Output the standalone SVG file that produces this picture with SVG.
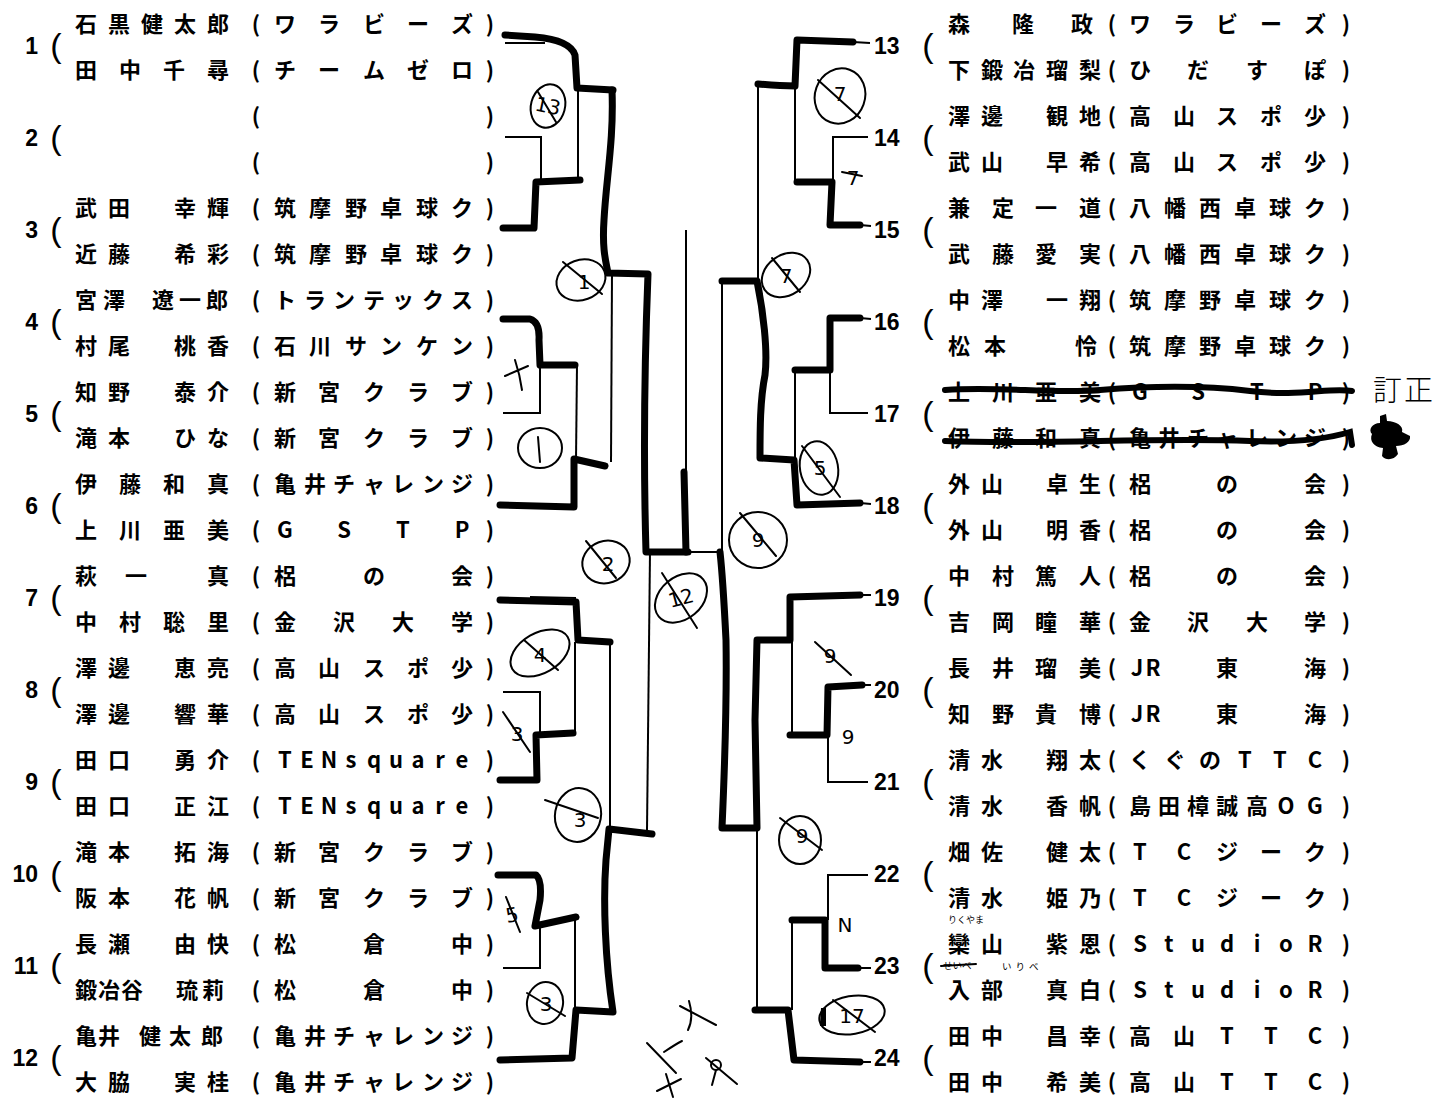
<svg xmlns="http://www.w3.org/2000/svg" width="1437" height="1099" viewBox="0 0 1437 1099">
<style>
.t{font-family:"Noto Sans CJK JP","Noto Sans CJK SC",sans-serif;font-size:22px;font-weight:700;text-anchor:middle;fill:#000}
.n{font-family:"Liberation Sans",Arial,sans-serif;font-size:23px;font-weight:700;fill:#000}
.nl{text-anchor:end}
.p{font-family:"Liberation Sans",Arial,sans-serif;font-size:34px;text-anchor:middle;fill:#000}
.k{fill:none;stroke:#000;stroke-width:7;stroke-linecap:round;stroke-linejoin:round}
.h{fill:none;stroke:#000;stroke-width:2}
.a{fill:none;stroke:#000;stroke-width:2;stroke-linecap:round}
.at{font-family:"DejaVu Sans",sans-serif;font-size:20px;text-anchor:middle;dominant-baseline:central;fill:#000}
.s{fill:none;stroke:#000;stroke-width:6;stroke-linecap:round}
.f{font-family:"Noto Sans CJK JP",sans-serif;fill:#000}
</style>
<rect width="1437" height="1099" fill="#fff"/>

<g id="e1"><text class="n nl" x="38" y="54">1</text><text class="p" x="56" y="57">(</text>
<text class="t" x="86 119 152 185 218 256 285 329 374 418 462 490" y="32">石黒健太郎(ワラビーズ)</text>
<text class="t" x="86 130 174 218 256 285 329 374 418 462 490" y="78">田中千尋(チームゼロ)</text></g>
<g id="e2"><text class="n nl" x="38" y="146">2</text><text class="p" x="56" y="149">(</text>
<text class="t" x="256 490" y="124">()</text>
<text class="t" x="256 490" y="170">()</text></g>
<g id="e3"><text class="n nl" x="38" y="238">3</text><text class="p" x="56" y="241">(</text>
<text class="t" x="86 119 152 185 218 256 285 320 356 391 427 462 490" y="216">武田　幸輝(筑摩野卓球ク)</text>
<text class="t" x="86 119 152 185 218 256 285 320 356 391 427 462 490" y="262">近藤　希彩(筑摩野卓球ク)</text></g>
<g id="e4"><text class="n nl" x="38" y="330">4</text><text class="p" x="56" y="333">(</text>
<text class="t" x="86 114 139 163 190 217 256 285 315 344 374 403 433 462 490" y="308">宮澤　遼一郎(トランテックス)</text>
<text class="t" x="86 119 152 185 218 256 285 320 356 391 427 462 490" y="354">村尾　桃香(石川サンケン)</text></g>
<g id="e5"><text class="n nl" x="38" y="422">5</text><text class="p" x="56" y="425">(</text>
<text class="t" x="86 119 152 185 218 256 285 329 374 418 462 490" y="400">知野　泰介(新宮クラブ)</text>
<text class="t" x="86 119 152 185 218 256 285 329 374 418 462 490" y="446">滝本　ひな(新宮クラブ)</text></g>
<g id="e6"><text class="n nl" x="38" y="514">6</text><text class="p" x="56" y="517">(</text>
<text class="t" x="86 130 174 218 256 285 315 344 374 403 433 462 490" y="492">伊藤和真(亀井チャレンジ)</text>
<text class="t" x="86 130 174 218 256 285 315 344 374 403 433 462 490" y="538">上川亜美(G　S　T　P)</text></g>
<g id="e7"><text class="n nl" x="38" y="606">7</text><text class="p" x="56" y="609">(</text>
<text class="t" x="86 136 218 256 285 329 374 418 462 490" y="584">萩一真(梠　の　会)</text>
<text class="t" x="86 130 174 218 256 285 315 344 374 403 433 462 490" y="630">中村聡里(金　沢　大　学)</text></g>
<g id="e8"><text class="n nl" x="38" y="698">8</text><text class="p" x="56" y="701">(</text>
<text class="t" x="86 119 152 185 218 256 285 329 374 418 462 490" y="676">澤邊　恵亮(高山スポ少)</text>
<text class="t" x="86 119 152 185 218 256 285 329 374 418 462 490" y="722">澤邊　響華(高山スポ少)</text></g>
<g id="e9"><text class="n nl" x="38" y="790">9</text><text class="p" x="56" y="793">(</text>
<text class="t" x="86 119 152 185 218 256 285 307 329 351 374 396 418 440 462 490" y="768">田口　勇介(TENsquare)</text>
<text class="t" x="86 119 152 185 218 256 285 307 329 351 374 396 418 440 462 490" y="814">田口　正江(TENsquare)</text></g>
<g id="e10"><text class="n nl" x="38" y="882">10</text><text class="p" x="56" y="885">(</text>
<text class="t" x="86 119 152 185 218 256 285 329 374 418 462 490" y="860">滝本　拓海(新宮クラブ)</text>
<text class="t" x="86 119 152 185 218 256 285 329 374 418 462 490" y="906">阪本　花帆(新宮クラブ)</text></g>
<g id="e11"><text class="n nl" x="38" y="974">11</text><text class="p" x="56" y="977">(</text>
<text class="t" x="86 119 152 185 218 256 285 329 374 418 462 490" y="952">長瀬　由快(松　倉　中)</text>
<text class="t" x="86 109 132 160 187 213 256 285 329 374 418 462 490" y="998">鍛冶谷　琉莉(松　倉　中)</text></g>
<g id="e12"><text class="n nl" x="38" y="1066">12</text><text class="p" x="56" y="1069">(</text>
<text class="t" x="86 109 130 150 180 212 256 285 315 344 374 403 433 462 490" y="1044">亀井　健太郎(亀井チャレンジ)</text>
<text class="t" x="86 119 152 185 218 256 285 315 344 374 403 433 462 490" y="1090">大脇　実桂(亀井チャレンジ)</text></g>

<g id="e13"><text class="n" x="874" y="54">13</text><text class="p" x="928" y="57">(</text>
<text class="t" x="959 1023 1082 1112 1140 1184 1227 1271 1315 1346" y="32">森隆政(ワラビーズ)</text>
<text class="t" x="959 992 1024 1057 1090 1112 1140 1198 1257 1315 1346" y="78">下鍛冶瑠梨(ひだすぽ)</text></g>
<g id="e14"><text class="n" x="874" y="146">14</text><text class="p" x="928" y="149">(</text>
<text class="t" x="959 992 1024 1057 1090 1112 1140 1184 1227 1271 1315 1346" y="124">澤邊　観地(高山スポ少)</text>
<text class="t" x="959 992 1024 1057 1090 1112 1140 1184 1227 1271 1315 1346" y="170">武山　早希(高山スポ少)</text></g>
<g id="e15"><text class="n" x="874" y="238">15</text><text class="p" x="928" y="241">(</text>
<text class="t" x="959 1003 1046 1090 1112 1140 1175 1210 1245 1280 1315 1346" y="216">兼定一道(八幡西卓球ク)</text>
<text class="t" x="959 1003 1046 1090 1112 1140 1175 1210 1245 1280 1315 1346" y="262">武藤愛実(八幡西卓球ク)</text></g>
<g id="e16"><text class="n" x="874" y="330">16</text><text class="p" x="928" y="333">(</text>
<text class="t" x="959 992 1024 1057 1090 1112 1140 1175 1210 1245 1280 1315 1346" y="308">中澤　一翔(筑摩野卓球ク)</text>
<text class="t" x="959 995 1086 1112 1140 1175 1210 1245 1280 1315 1346" y="354">松本怜(筑摩野卓球ク)</text></g>
<g id="e17"><text class="n" x="874" y="422">17</text><text class="p" x="928" y="425">(</text>
<text class="t" x="959 1003 1046 1090 1112 1140 1169 1198 1227 1257 1286 1315 1346" y="400">上川亜美(G　S　T　P)</text>
<text class="t" x="959 1003 1046 1090 1112 1140 1169 1198 1227 1257 1286 1315 1346" y="446">伊藤和真(亀井チャレンジ)</text>
<path class="s" d="M945,390 C1000,386 1050,394 1100,390 S1200,385 1250,391 S1330,387 1352,391"/>
<path class="s" d="M945,441 C1050,445 1150,437 1250,441 C1300,443 1330,438 1350,432 L1352,445"/>
<text class="f" x="1373" y="401" font-size="29" font-weight="300" letter-spacing="2">訂正</text>
<path d="M1380,416 L1386,414 L1387,421 C1396,421 1404,426 1402,432 L1410,436 C1411,442 1404,446 1396,446 L1398,454 C1394,460 1386,461 1382,456 L1383,448 C1374,447 1369,441 1372,434 C1368,430 1372,423 1380,423 Z" fill="#000"/></g>
<g id="e18"><text class="n" x="874" y="514">18</text><text class="p" x="928" y="517">(</text>
<text class="t" x="959 992 1024 1057 1090 1112 1140 1184 1227 1271 1315 1346" y="492">外山　卓生(梠　の　会)</text>
<text class="t" x="959 992 1024 1057 1090 1112 1140 1184 1227 1271 1315 1346" y="538">外山　明香(梠　の　会)</text></g>
<g id="e19"><text class="n" x="874" y="606">19</text><text class="p" x="928" y="609">(</text>
<text class="t" x="959 1003 1046 1090 1112 1140 1184 1227 1271 1315 1346" y="584">中村篤人(梠　の　会)</text>
<text class="t" x="959 1003 1046 1090 1112 1140 1169 1198 1227 1257 1286 1315 1346" y="630">吉岡瞳華(金　沢　大　学)</text></g>
<g id="e20"><text class="n" x="874" y="698">20</text><text class="p" x="928" y="701">(</text>
<text class="t" x="959 1003 1046 1090 1112 1137 1153 1190 1227 1271 1315 1346" y="676">長井瑠美(JR　東　海)</text>
<text class="t" x="959 1003 1046 1090 1112 1137 1153 1190 1227 1271 1315 1346" y="722">知野貴博(JR　東　海)</text></g>
<g id="e21"><text class="n" x="874" y="790">21</text><text class="p" x="928" y="793">(</text>
<text class="t" x="959 992 1024 1057 1090 1112 1140 1175 1210 1245 1280 1315 1346" y="768">清水　翔太(くぐのTTC)</text>
<text class="t" x="959 992 1024 1057 1090 1112 1140 1169 1198 1227 1257 1286 1315 1346" y="814">清水　香帆(島田樟誠高OG)</text></g>
<g id="e22"><text class="n" x="874" y="882">22</text><text class="p" x="928" y="885">(</text>
<text class="t" x="959 992 1024 1057 1090 1112 1140 1184 1227 1271 1315 1346" y="860">畑佐　健太(TCジーク)</text>
<text class="t" x="959 992 1024 1057 1090 1112 1140 1184 1227 1271 1315 1346" y="906">清水　姫乃(TCジーク)</text></g>
<g id="e23"><text class="n" x="874" y="974">23</text><text class="p" x="928" y="977">(</text>
<text class="t" x="959 992 1024 1057 1090 1112 1140 1169 1198 1227 1257 1286 1315 1346" y="952">欒山　紫恩(StudioR)</text>
<text class="t" x="959 992 1024 1057 1090 1112 1140 1169 1198 1227 1257 1286 1315 1346" y="998">入部　真白(StudioR)</text>
<text class="f" x="948" y="923" font-size="9">りくやま</text>
<text class="f" x="943" y="969" font-size="9.5">せいべ</text>
<path class="a" d="M941,966 L976,964"/>
<text class="f" x="1002" y="969.5" font-size="9.5" letter-spacing="4">いりべ</text></g>
<g id="e24"><text class="n" x="874" y="1066">24</text><text class="p" x="928" y="1069">(</text>
<text class="t" x="959 992 1024 1057 1090 1112 1140 1184 1227 1271 1315 1346" y="1044">田中　昌幸(高山TTC)</text>
<text class="t" x="959 992 1024 1057 1090 1112 1140 1184 1227 1271 1315 1346" y="1090">田中　希美(高山TTC)</text></g>

<g id="connectors">
<path class="k" d="M505,35 L535,37 Q570,40 575,55 L577,88 L613,90"/>
<path class="k" d="M612,90 C614,140 606,180 604,220 C602,250 606,262 608,273 L648,274 C645,350 643,450 646,552 L688,552"/>
<path class="k" d="M503,228 L534,228 L536,182 L580,180"/>
<path class="k" d="M503,319 L530,319 Q540,322 539,340 L540,365 L575,365"/>
<path class="k" d="M500,505 L574,507 L574,459 L605,466"/>
<path class="k" d="M500,600 L576,602 L578,640 L610,642"/>
<path class="k" d="M500,780 L537,780 L536,735 L573,733"/>
<path class="k" d="M498,875 L536,875 Q542,880 540,900 L535,926 L576,917"/>
<path class="k" d="M500,1060 L572,1058 L576,1010 L613,1012 C605,960 603,900 606,860 L609,829 L652,834"/>
<path class="k" d="M684,472 L686,552"/>
<path class="k" d="M853,42 L797,40 L795,86 Q780,86 758,84"/>
<path class="k" d="M860,225 L830,225 L832,182 L797,182"/>
<path class="k" d="M860,318 L830,318 L830,370 L795,370"/>
<path class="k" d="M860,503 L797,505 L794,460 L760,458 C760,430 760,400 765,375 C768,350 763,310 757,281 L722,281"/>
<path class="k" d="M860,595 L790,597 L790,640 L757,640 L755,720 L757,828 L722,828 C725,760 727,700 726,640 C724,600 722,570 720,552"/>
<path class="k" d="M862,685 L828,687 L827,735 L790,735"/>
<path class="k" d="M858,968 L825,968 L825,920 L792,920"/>
<path class="k" d="M860,1062 L794,1060 L788,1010 L755,1010"/>
<path class="h" d="M505,43 L545,43"/>
<path class="h" d="M578,88 L578,180"/>
<path class="h" d="M505,137 L541,137 L541,182"/>
<path class="h" d="M612,273 L611,462"/>
<path class="h" d="M503,413 L540,413 L540,365"/>
<path class="h" d="M577,365 L576,460"/>
<path class="h" d="M530,597 L576,598"/>
<path class="h" d="M575,642 L575,735"/>
<path class="h" d="M503,692 L540,692 L540,735"/>
<path class="h" d="M610,642 L610,828"/>
<path class="h" d="M503,968 L540,968 L540,928"/>
<path class="h" d="M575,917 L575,1008"/>
<path class="h" d="M650,552 L647,830"/>
<path class="h" d="M686,230 L686,472"/>
<path class="h" d="M688,552 L722,552"/>
<path class="h" d="M853,42 L870,43 M860,225 L871,226 M860,318 L871,319 M860,503 L871,504 M860,595 L871,595 M862,685 L871,685 M858,968 L871,968 M860,1062 L871,1062"/>
<path class="h" d="M795,86 L795,182"/>
<path class="h" d="M868,137 L833,137 L833,182"/>
<path class="h" d="M758,84 L758,281"/>
<path class="h" d="M868,413 L830,413 L830,370"/>
<path class="h" d="M795,370 L795,458"/>
<path class="h" d="M722,281 L722,552"/>
<path class="h" d="M868,782 L828,782 L828,735"/>
<path class="h" d="M792,640 L792,735"/>
<path class="h" d="M757,828 L757,1010"/>
<path class="h" d="M868,875 L828,875 L828,920"/>
<path class="h" d="M792,920 L792,1010"/>
</g>

<g id="marks">
<ellipse class="a" cx="548" cy="106" rx="17" ry="22" transform="rotate(15 548 106)"/>
<text class="at" x="548" y="106" transform="rotate(12 548 106)">13</text>
<path class="a" d="M538,92 L556,122"/>
<ellipse class="a" cx="581" cy="280" rx="25" ry="20" transform="rotate(-20 581 280)"/>
<text class="at" x="584" y="282">1</text>
<path class="a" d="M563,262 L602,294"/>
<path class="a" d="M505,376 L528,366 M515,360 Q520,375 522,390"/>
<ellipse class="a" cx="540" cy="448" rx="22" ry="20"/>
<path class="a" d="M538,437 L540,462"/>
<ellipse class="a" cx="606" cy="562" rx="24" ry="21" transform="rotate(-20 606 562)"/>
<text class="at" x="608" y="564">2</text>
<path class="a" d="M586,541 L616,578"/>
<ellipse class="a" cx="681" cy="598" rx="29" ry="21" transform="rotate(-40 681 598)"/>
<text class="at" x="681" y="598" transform="rotate(-15 681 598)">12</text>
<path class="a" d="M662,573 L697,628"/>
<ellipse class="a" cx="540" cy="653" rx="32" ry="20" transform="rotate(-30 540 653)"/>
<text class="at" x="540" y="655">4</text>
<path class="a" d="M524,640 L558,670"/>
<text class="at" x="517" y="734">3</text>
<path class="a" d="M503,712 L530,752"/>
<ellipse class="a" cx="578" cy="815" rx="23" ry="27" transform="rotate(10 578 815)"/>
<text class="at" x="580" y="820">3</text>
<path class="a" d="M545,800 L598,818"/>
<text class="at" x="512" y="915" transform="rotate(-10 512 915)">5</text>
<path class="a" d="M506,897 L520,932"/>
<ellipse class="a" cx="545" cy="1003" rx="18" ry="21" transform="rotate(10 545 1003)"/>
<text class="at" x="546" y="1004">3</text>
<path class="a" d="M527,993 L565,1016"/>
<path class="a" d="M680,1006 L716,1025 M689,1001 Q694,1018 688,1030"/>
<path class="a" d="M647,1043 L676,1073 M664,1052 Q676,1044 682,1041"/>
<path class="a" d="M657,1091 L681,1079 M666,1074 L673,1097"/>
<circle class="a" cx="716" cy="1065" r="5"/>
<path class="a" d="M706,1058 L737,1084 M716,1070 L712,1085"/>
<ellipse class="a" cx="840" cy="96" rx="25" ry="28" transform="rotate(20 840 96)"/>
<text class="at" x="840" y="94">7</text>
<path class="a" d="M818,80 L860,118"/>
<text class="at" x="853" y="178">7</text>
<path class="a" d="M842,172 L862,176"/>
<ellipse class="a" cx="786" cy="275" rx="26" ry="20" transform="rotate(-35 786 275)"/>
<text class="at" x="786" y="276">7</text>
<path class="a" d="M772,258 L800,292"/>
<ellipse class="a" cx="819" cy="468" rx="19" ry="27" transform="rotate(-10 819 468)"/>
<text class="at" x="820" y="468">5</text>
<path class="a" d="M802,446 L840,497"/>
<ellipse class="a" cx="758" cy="540" rx="29" ry="28"/>
<text class="at" x="758" y="540">9</text>
<path class="a" d="M740,513 L776,556"/>
<text class="at" x="830" y="656">9</text>
<path class="a" d="M815,642 L851,675"/>
<text class="at" x="848" y="737">9</text>
<ellipse class="a" cx="800" cy="840" rx="21" ry="24"/>
<text class="at" x="802" y="836">9</text>
<path class="a" d="M780,818 L822,850"/>
<text class="at" x="845" y="925">N</text>
<ellipse class="a" cx="852" cy="1015" rx="33" ry="19" transform="rotate(-10 852 1015)"/>
<text class="at" x="852" y="1016">17</text>
<path class="a" d="M833,1000 L875,1032"/>
<path d="M821,1008 L826,1008 L826,1026 L820,1026 Z" fill="#000"/>
</g>
</svg>
